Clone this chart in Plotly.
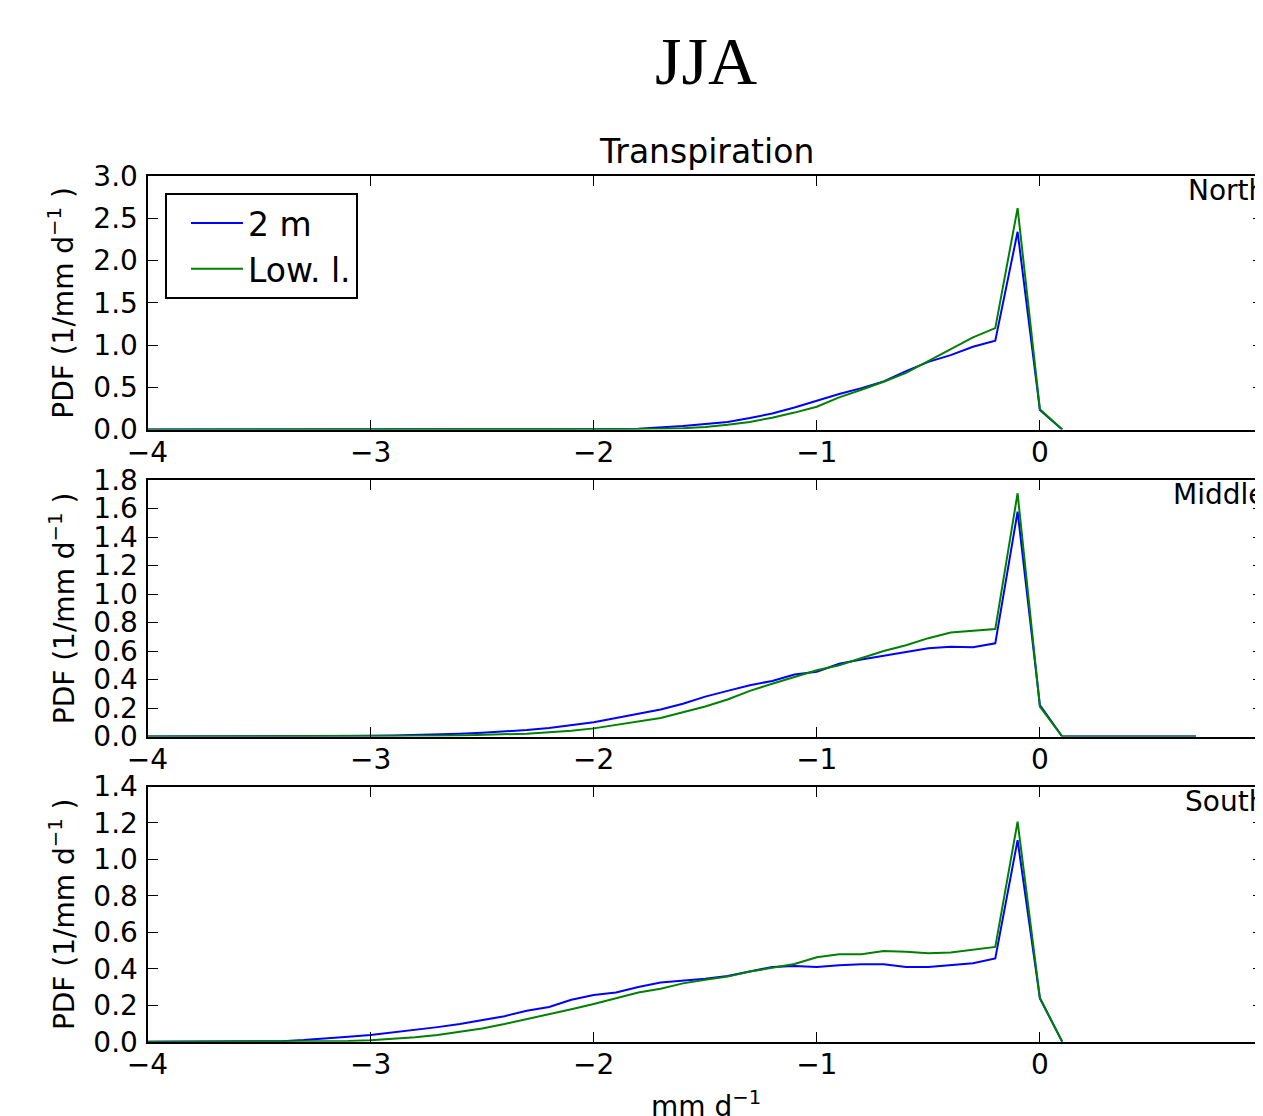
import plotly.graph_objects as go

# ---------------- data ----------------
x_bins = [-4.0, -3.9, -3.8, -3.7, -3.6, -3.5, -3.4, -3.3, -3.2, -3.1,
          -3.0, -2.9, -2.8, -2.7, -2.6, -2.5, -2.4, -2.3, -2.2, -2.1,
          -2.0, -1.9, -1.8, -1.7, -1.6, -1.5, -1.4, -1.3, -1.2, -1.1,
          -1.0, -0.9, -0.8, -0.7, -0.6, -0.5, -0.4, -0.3, -0.2, -0.1,
          0.0, 0.1, 0.2, 0.3, 0.4, 0.5, 0.6, 0.7]

north_2m = [0, 0, 0, 0, 0, 0, 0, 0, 0, 0,
            0, 0, 0, 0, 0, 0, 0, 0, 0, 0,
            0.0, 0.005, 0.01, 0.025, 0.04, 0.065, 0.09, 0.135, 0.19, 0.26,
            0.34, 0.42, 0.49, 0.57, 0.69, 0.80, 0.88, 0.98, 1.05, 2.34,
            0.23, 0.0]
north_low = [0, 0, 0, 0, 0, 0, 0, 0, 0, 0,
             0, 0, 0, 0, 0, 0, 0, 0, 0, 0,
             0.0, 0.0, 0.003, 0.008, 0.015, 0.03, 0.055, 0.09, 0.14, 0.20,
             0.27, 0.38, 0.47, 0.565, 0.67, 0.81, 0.95, 1.09, 1.20, 2.62,
             0.24, 0.0]

middle_2m = [0, 0, 0, 0, 0, 0, 0, 0, 0, 0,
             0.005, 0.007, 0.01, 0.015, 0.02, 0.027, 0.035, 0.045, 0.06, 0.08,
             0.10, 0.13, 0.16, 0.19, 0.23, 0.28, 0.32, 0.36, 0.39, 0.435,
             0.455, 0.51, 0.54, 0.565, 0.59, 0.62, 0.63, 0.626, 0.654, 1.578,
             0.22, 0.0, 0, 0, 0, 0, 0, 0]
middle_low = [0, 0, 0, 0, 0, 0, 0, 0, 0, 0,
              0.002, 0.003, 0.003, 0.005, 0.007, 0.01, 0.015, 0.02, 0.03, 0.04,
              0.057, 0.08, 0.105, 0.13, 0.17, 0.21, 0.26, 0.32, 0.37, 0.42,
              0.465, 0.50, 0.55, 0.60, 0.64, 0.69, 0.73, 0.74, 0.754, 1.707,
              0.21, 0.0, 0, 0, 0, 0, 0, 0]

south_2m = [0, 0, 0, 0, 0,
            0.0, 0.003, 0.009, 0.016, 0.027,
            0.037, 0.05, 0.064, 0.08, 0.097, 0.12, 0.14, 0.17, 0.19, 0.23,
            0.256, 0.27, 0.30, 0.325, 0.335, 0.345, 0.36, 0.385, 0.41, 0.415,
            0.41, 0.42, 0.425, 0.425, 0.41, 0.41, 0.42, 0.43, 0.457, 1.106,
            0.238, 0.0]
south_low = [0, 0, 0, 0, 0,
             0.0, 0.0, 0.0, 0.002, 0.004,
             0.008, 0.015, 0.024, 0.037, 0.055, 0.073, 0.097, 0.123, 0.15, 0.178,
             0.207, 0.24, 0.27, 0.29, 0.32, 0.34, 0.357, 0.385, 0.405, 0.426,
             0.463, 0.48, 0.48, 0.497, 0.494, 0.485, 0.49, 0.506, 0.52, 1.207,
             0.24, 0.0]

panels = [
    ("North", north_2m, north_low, [0, 3.0], 0.5),
    ("Middle", middle_2m, middle_low, [0, 1.8], 0.2),
    ("South", south_2m, south_low, [0, 1.4], 0.2),
]
series_names = ["2 m", "Low. l."]
series_colors = ["#0000ff", "#008000"]
x_ticks = [-4, -3, -2, -1, 0, 1]

# ---------------- layout geometry (figure pixels; page has 8px body margin) ----
W, H = 1255, 1108
FONT = "DejaVu Sans"
y_domains_px = [(168, 421.5), (472, 728.5), (778.5, 1033.7)]
x_left_px = 139.5

fig = go.Figure()
annotations = []

for k, (label, s2m, slow, yrange, dtick) in enumerate(panels):
    idx = "" if k == 0 else str(k + 1)
    for name, vals, col in zip(series_names, [s2m, slow], series_colors):
        fig.add_trace(go.Scatter(
            x=x_bins[:len(vals)], y=vals, mode="lines", name=name,
            line=dict(color=col, width=2),
            xaxis="x" + idx, yaxis="y" + idx,
            showlegend=(k == 0),
        ))
    top, bot = y_domains_px[k]
    dom = [1 - bot / H, 1 - top / H]
    common = dict(showline=True, linecolor="black", linewidth=2, mirror="ticks",
                  ticks="inside", ticklen=10, tickwidth=1, tickcolor="black",
                  showgrid=False, zeroline=False,
                  tickfont=dict(family=FONT, size=28, color="black"))
    fig.layout["xaxis" + idx] = dict(
        common, domain=[x_left_px / W, 1], range=[-4, 1], tickvals=x_ticks,
        anchor="y" + idx, ticklabelstandoff=-3)
    fig.layout["yaxis" + idx] = dict(
        common, domain=dom, range=yrange, dtick=dtick, tick0=0, tickformat=".1f",
        anchor="x" + idx, ticklabelstandoff=2)
    # region label (right-aligned just past the right edge, as in the original)
    annotations.append(dict(
        text=label, xref="paper", yref="paper", x=1260 / W, y=1 - top / H,
        xanchor="right", yanchor="top", showarrow=False, yshift=4,
        font=dict(family=FONT, size=28, color="black")))
    # y-axis title
    annotations.append(dict(
        text="PDF (1/mm d<sup>−1</sup> )", xref="paper", yref="paper",
        x=54 / W, y=1 - (top + bot) / 2 / H, textangle=-90,
        xanchor="center", yanchor="middle", showarrow=False,
        font=dict(family=FONT, size=28, color="black")))

annotations.append(dict(
    text="JJA", xref="paper", yref="paper", x=698 / W, y=1 - 53 / H,
    xanchor="center", yanchor="middle", showarrow=False,
    font=dict(family="Liberation Serif", size=68, color="black")))
annotations.append(dict(
    text="Transpiration", xref="paper", yref="paper", x=698 / W, y=1 - 144 / H,
    xanchor="center", yanchor="middle", showarrow=False,
    font=dict(family=FONT, size=33, color="black")))
annotations.append(dict(
    text="mm d<sup>−1</sup>", xref="paper", yref="paper", x=698 / W, y=1 - 1076 / H,
    xanchor="center", yanchor="top", showarrow=False,
    font=dict(family=FONT, size=28, color="black")))

fig.update_layout(
    width=W, height=H,
    margin=dict(l=0, r=0, t=0, b=0, autoexpand=False),
    paper_bgcolor="white", plot_bgcolor="white",
    annotations=annotations,
    legend=dict(x=157 / W, y=1 - 185 / H, xanchor="left", yanchor="top",
                bordercolor="black", borderwidth=2, bgcolor="white",
                font=dict(family=FONT, size=33, color="black"),
                itemwidth=52, indentation=19),
    showlegend=True,
)

fig.write_html("out.html")
